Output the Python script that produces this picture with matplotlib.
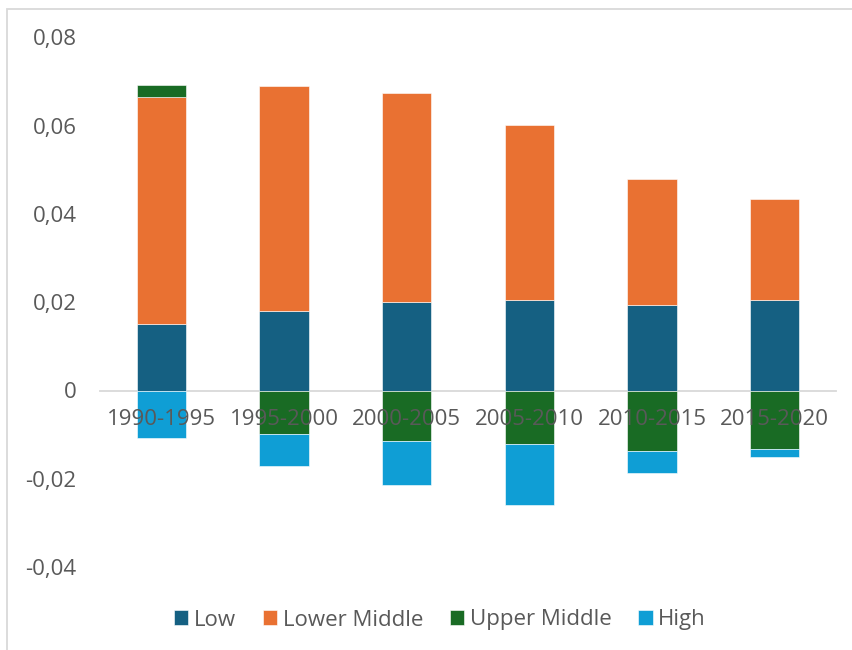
import numpy as np
import matplotlib.pyplot as plt
from matplotlib.patches import Rectangle
from matplotlib.ticker import FuncFormatter

periods = ["1990-1995", "1995-2000", "2000-2005", "2005-2010", "2010-2015", "2015-2020"]
low = [0.0151, 0.0180, 0.0200, 0.0205, 0.0193, 0.0205]
lower_middle = [0.0514, 0.0509, 0.0475, 0.0396, 0.0286, 0.0229]
upper_middle = [0.0027, -0.0098, -0.0115, -0.0121, -0.0138, -0.0133]
high = [-0.0108, -0.0072, -0.0099, -0.0138, -0.0048, -0.0017]

series_names = ["Low", "Lower Middle", "Upper Middle", "High"]
series_values = [low, lower_middle, upper_middle, high]
colors = ["#156082", "#E97132", "#196B24", "#0F9ED5"]
text_color = "#595959"

plt.rcParams["font.family"] = ["Open Sans", "DejaVu Sans"]

fig = plt.figure(figsize=(8.52, 6.5), dpi=100)
ax = fig.add_axes([100 / 852, 1 - 567 / 650, 736 / 852, (567 - 37.5) / 650])

x = np.arange(len(periods))
pos_base = np.zeros(len(periods))
neg_base = np.zeros(len(periods))
for name, vals, col in zip(series_names, series_values, colors):
    vals = np.array(vals)
    bottoms = np.where(vals >= 0, pos_base, neg_base)
    ax.bar(x, vals, width=0.4, bottom=bottoms, color=col, label=name,
           edgecolor="white", linewidth=0.4)
    pos_base = pos_base + np.clip(vals, 0, None)
    neg_base = neg_base + np.clip(vals, None, 0)

ax.set_xlim(-0.5, len(periods) - 0.5)
ax.set_ylim(-0.04, 0.08)
ax.set_yticks([-0.04, -0.02, 0, 0.02, 0.04, 0.06, 0.08])
ax.yaxis.set_major_formatter(FuncFormatter(
    lambda v, _: "0" if abs(v) < 1e-12 else f"{v:.2f}".replace(".", ",")))
ax.set_xticks(x)
ax.set_xticklabels(periods)

for s in ["top", "right", "left"]:
    ax.spines[s].set_visible(False)
ax.spines["bottom"].set_position(("data", 0))
ax.spines["bottom"].set_color("#d9d9d9")
ax.spines["bottom"].set_linewidth(1.3)
ax.spines["bottom"].set_zorder(0.5)

ax.tick_params(axis="y", length=0, pad=17, labelsize=16, labelcolor=text_color)
ax.tick_params(axis="x", length=0, pad=13, labelsize=16, labelcolor=text_color)

leg = fig.legend(loc="center", bbox_to_anchor=(440 / 852, 1 - 620 / 650), ncol=4,
                 frameon=False, fontsize=16, handlelength=0.65, handleheight=0.65,
                 handletextpad=0.25, columnspacing=1.2, labelcolor=text_color)

# chart area border
fig.patches.append(Rectangle((7 / 852, -0.1), 1.2, 1.1 - 9 / 650,
                             transform=fig.transFigure, fill=False,
                             edgecolor="#d9d9d9", linewidth=1.3))

fig.savefig("out.png", dpi=100)
